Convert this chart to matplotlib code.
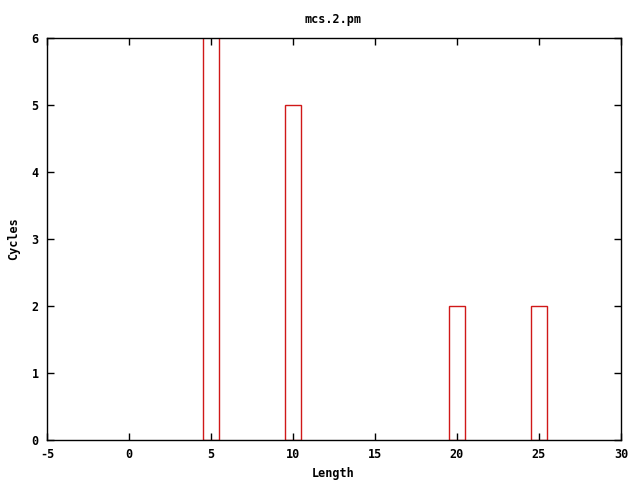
import matplotlib
matplotlib.use("Agg")
import matplotlib.pyplot as plt

lengths = [5, 10, 20, 25]
cycles = [7, 5, 2, 2]
xticks = [-5, 0, 5, 10, 15, 20, 25, 30]
yticks = [0, 1, 2, 3, 4, 5, 6]

fig = plt.figure(figsize=(6.4, 4.8), dpi=100)
ax = fig.add_axes([47/640, 1-440/480, (621-47)/640, (440-38)/480])
ax.bar(lengths, cycles, width=1.0, facecolor='none', edgecolor='#d01818', linewidth=1.0)
ax.set_xlim(-5, 30)
ax.set_ylim(0, 6)
ax.set_xticks(xticks)
ax.set_yticks(yticks)
font = dict(family='DejaVu Sans Mono', fontsize=8.5, fontweight='bold')
ax.set_xticklabels([str(t) for t in xticks], **font)
ax.set_yticklabels([str(t) for t in yticks], **font)
ax.tick_params(direction='in', top=True, right=True, length=5, width=1)
ax.tick_params(axis='x', pad=6)
ax.tick_params(axis='y', pad=6)
for s in ax.spines.values():
    s.set_linewidth(1)
fig.text(333/640, 1-473/480, 'Length', ha='center', va='center', **font)
fig.text(14/640, 1-239/480, 'Cycles', ha='center', va='center', rotation=90, **font)
fig.text(333/640, 1-19/480, 'mcs.2.pm', ha='center', va='center', **font)
fig.savefig('out.png', dpi=100)
